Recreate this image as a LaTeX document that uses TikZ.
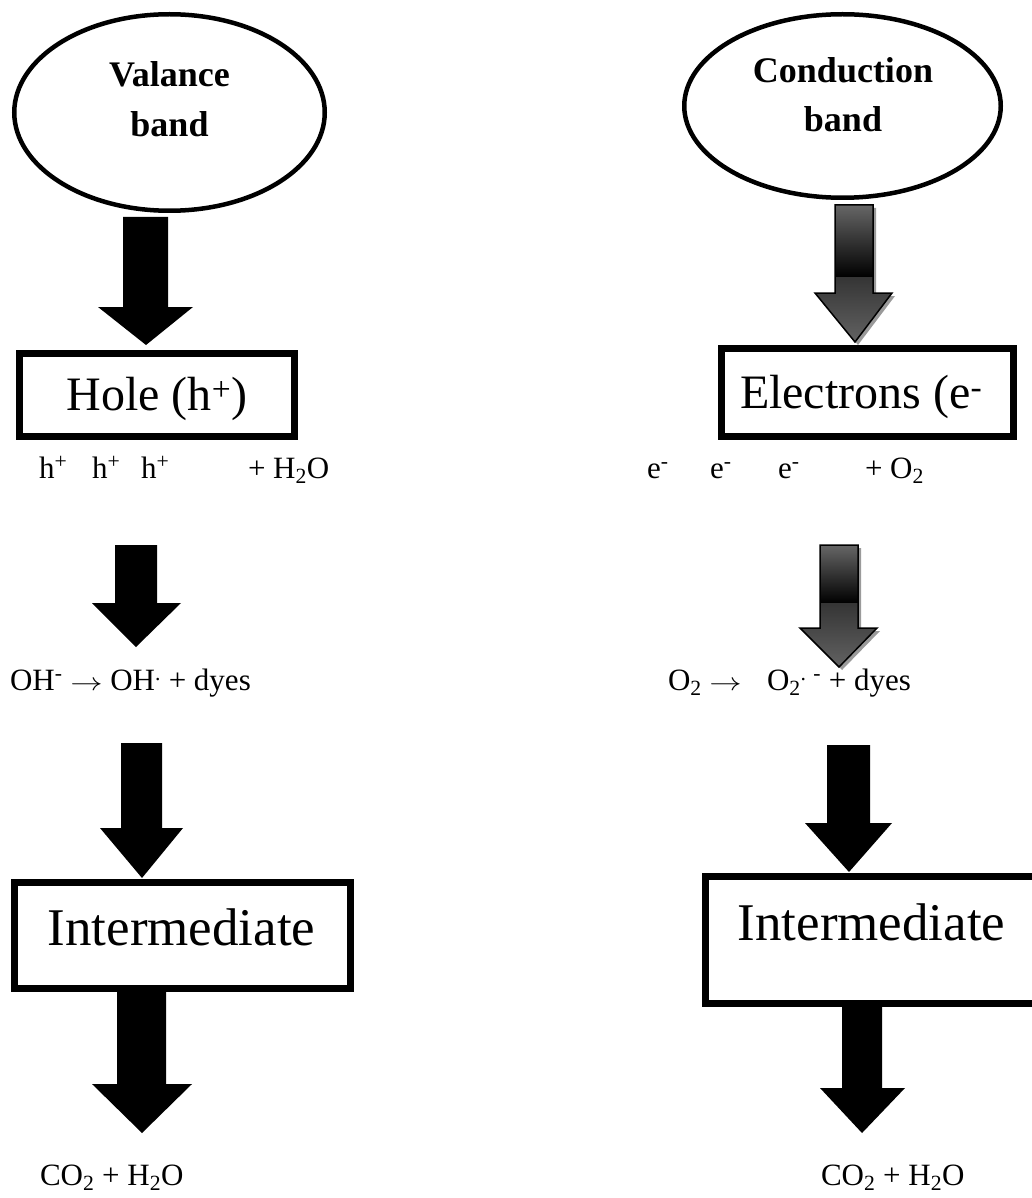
\documentclass[tikz,border=0pt]{standalone}
\usepackage{fontspec}
\setmainfont{Liberation Serif}
\usetikzlibrary{shapes.geometric}
\definecolor{gA}{HTML}{666666}
\definecolor{gC}{HTML}{353535}
\definecolor{gD}{HTML}{626262}
\definecolor{shadowc}{HTML}{9A9A9A}
\newcommand{\blockarr}[8]{%
  \fill (#1,#3) -- (#2,#3) -- (#2,#4) -- (#6,#4) -- (#7,#8) -- (#5,#4) -- (#1,#4) -- cycle;}
\newcommand{\gradarr}[9]{%
  \fill[shadowc,shift={(3,3)}] (#1,#3) -- (#2,#3) -- (#2,#4) -- (#6,#4) -- (#7,#8) -- (#5,#4) -- (#1,#4) -- cycle;
  \begin{scope}
    \clip (#1,#3) -- (#2,#3) -- (#2,#4) -- (#6,#4) -- (#7,#8) -- (#5,#4) -- (#1,#4) -- cycle;
    \shade[top color=gA,bottom color=black] (#5,#3) rectangle (#6,#9);
    \shade[top color=gC,bottom color=gD] (#5,#9) rectangle (#6,#8);
  \end{scope}
  \draw[line width=1.5pt] (#1,#3) -- (#2,#3) -- (#2,#4) -- (#6,#4) -- (#7,#8) -- (#5,#4) -- (#1,#4) -- cycle;}
\newcommand{\rxarrow}{\scalebox{1.3}[1]{$\rightarrow$}}
\begin{document}
\begin{tikzpicture}[x=1pt,y=-1pt,
  every node/.style={inner sep=0pt,outer sep=0pt},
  band/.style={draw,ellipse,line width=4.5pt},
  box/.style={draw,rectangle,line width=7pt},
  bandtext/.style={font=\fontsize{36}{40}\selectfont\bfseries,anchor=base},
  boxtext/.style={font=\fontsize{48}{56}\selectfont,anchor=base},
  midtext/.style={font=\fontsize{53}{60}\selectfont,anchor=base},
  smalltext/.style={font=\fontsize{31}{36}\selectfont,anchor=base west}]
\useasboundingbox (0,0) rectangle (1032,1198);
\clip (0,0) rectangle (1032,1198);

% left column
\node[band,minimum width=310.5pt,minimum height=196.5pt] (vb) at (169.5,112.5) {};
\node[bandtext] (vbt1) at (169.5,87) {Valance};
\node[bandtext] (vbt2) at (169.5,137) {band};
\blockarr{123}{168}{217}{307}{98}{193}{146}{345}
\node[box,minimum width=275pt,minimum height=83pt] (hole) at (157,395) {};
\node[boxtext] (holet) at (157,410) {Hole (h\textsuperscript{+})};
\node[smalltext] (h1) at (39,478) {h\textsuperscript{+}};
\node[smalltext] (h2) at (92,478) {h\textsuperscript{+}};
\node[smalltext] (h3) at (141,478) {h\textsuperscript{+}};
\node[smalltext] (hw) at (248,478) {+ H\textsubscript{2}O};
\blockarr{115}{157}{545}{603}{92}{181}{136}{647}
\node[smalltext] (oh) at (10,690) {OH\textsuperscript{-} \rxarrow{} OH\textsuperscript{.} + dyes};
\blockarr{121}{162}{743}{828}{100}{183}{142}{878}
\node[box,minimum width=336pt,minimum height=106pt] (im1) at (182.5,935.5) {};
\node[midtext] (im1t) at (181.5,945) {Intermediate};
\blockarr{117}{166}{992}{1084}{92}{192}{142}{1133}
\node[smalltext] (co1) at (40,1185) {CO\textsubscript{2} + H\textsubscript{2}O};

% right column
\node[band,minimum width=316.5pt,minimum height=183.5pt] (cb) at (842.5,106) {};
\node[bandtext] (cbt1) at (843,83) {Conduction};
\node[bandtext] (cbt2) at (843,132) {band};
\gradarr{835}{873}{205}{293}{815}{892}{855}{342}{277}
\node[box,minimum width=292pt,minimum height=88pt] (el) at (867.5,392.5) {};
\node[boxtext,anchor=base west] (elt) at (740,408) {Electrons (e\textsuperscript{-}};
\node[smalltext] (e1) at (647,478) {e\textsuperscript{-}};
\node[smalltext] (e2) at (710,478) {e\textsuperscript{-}};
\node[smalltext] (e3) at (778,478) {e\textsuperscript{-}};
\node[smalltext] (eo) at (865,478) {+ O\textsubscript{2}};
\gradarr{820}{858}{545}{628}{800}{877}{839}{667}{603}
\node[smalltext] (o2a) at (668,690) {O\textsubscript{2} \rxarrow};
\node[smalltext] (o2b) at (767,690) {O\textsubscript{2}\textsuperscript{. -} + dyes};
\blockarr{827}{870}{745}{823}{805}{892}{849}{872}
\node[box,minimum width=350pt,minimum height=127pt] (im2) at (880,940) {};
\node[midtext] (im2t) at (871.5,940) {Intermediate};
\blockarr{842}{882}{1007}{1088}{820}{905}{862}{1133}
\node[smalltext] (co2) at (821,1185) {CO\textsubscript{2} + H\textsubscript{2}O};
\end{tikzpicture}
\end{document}
